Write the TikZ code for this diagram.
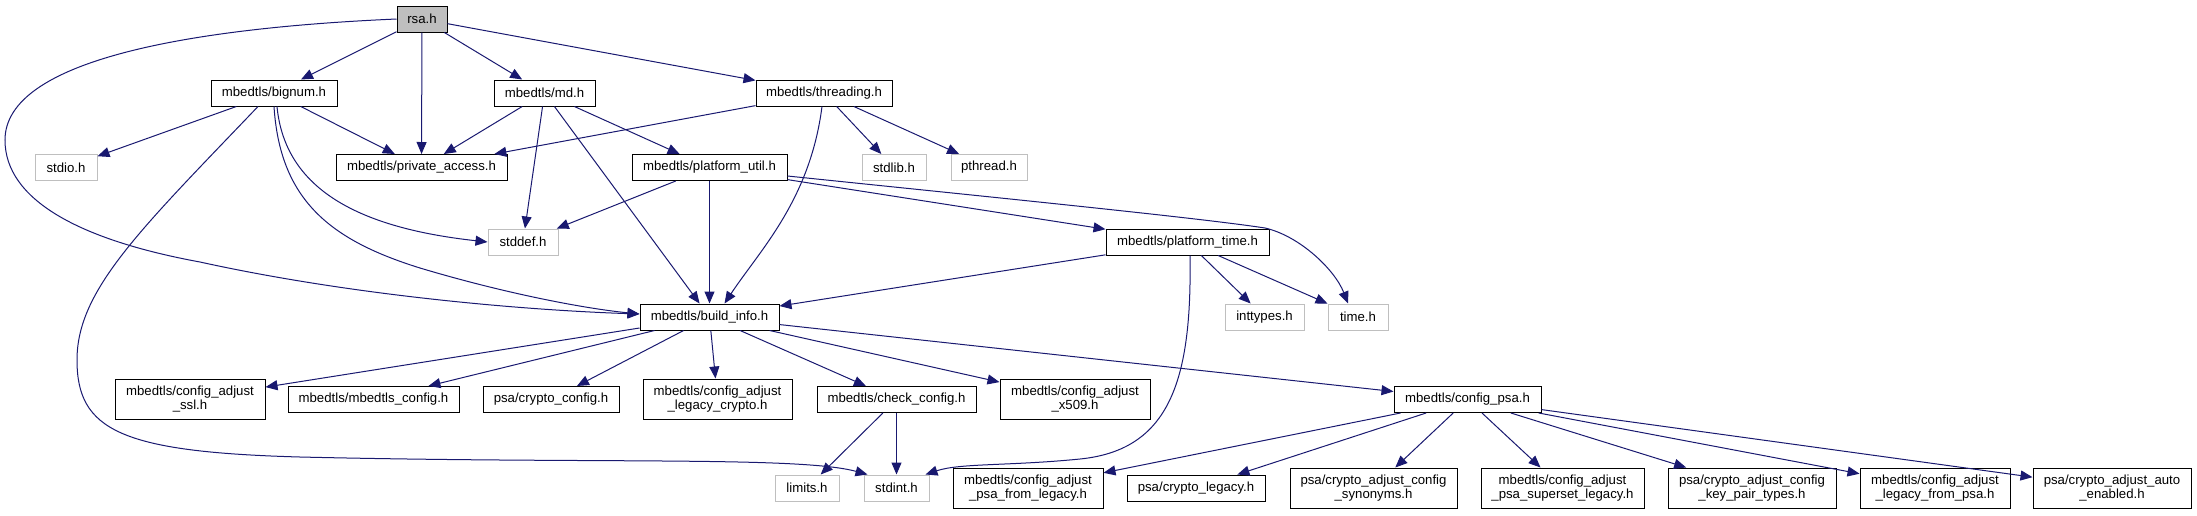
\documentclass[tikz,border=0pt]{standalone}
\usepackage{fontspec}
\setmainfont{Liberation Sans}
\usetikzlibrary{arrows.meta}
\definecolor{edgec}{HTML}{191970}
\definecolor{graybd}{HTML}{BFBFBF}
\begin{document}
\begin{tikzpicture}[x=1pt,y=-1pt,
  box/.style={draw=black, line width=1pt, rectangle, inner sep=0pt, minimum height=26pt, font=\fontsize{13.2}{14.5}\selectfont, align=center},
  gbox/.style={box, draw=graybd},
  tall/.style={minimum height=40pt},
  e/.style={draw=edgec, line width=1pt, -{Triangle[length=12pt,width=10pt]}}]
\useasboundingbox (0,0) rectangle (2197,515);
% row 1
\node[box, fill=graybd, minimum width=50pt] (rsa) at (422,19) {rsa.h};
% row 2
\node[box, minimum width=126pt] (bignum) at (274,93) {mbedtls/bignum.h};
\node[box, minimum width=101pt] (md) at (544.5,93) {mbedtls/md.h};
\node[box, minimum width=136pt] (thr) at (824,93) {mbedtls/threading.h};
% row 3
\node[gbox, minimum width=62pt] (stdio) at (66,167.5) {stdio.h};
\node[box, minimum width=171pt] (priv) at (421.5,167.5) {mbedtls/private\_access.h};
\node[box, minimum width=155pt] (putil) at (709.5,167.5) {mbedtls/platform\_util.h};
\node[gbox, minimum width=64pt] (stdlib) at (894,167.5) {stdlib.h};
\node[gbox, minimum width=76pt] (pthread) at (989,167.5) {pthread.h};
% row 4
\node[gbox, minimum width=70pt] (stddef) at (523,242) {stddef.h};
\node[box, minimum width=163pt] (ptime) at (1187.5,242) {mbedtls/platform\_time.h};
% row 5
\node[box, minimum width=139pt] (build) at (709.5,317) {mbedtls/build\_info.h};
\node[gbox, minimum width=79pt] (inttypes) at (1264.5,317) {inttypes.h};
\node[gbox, minimum width=60pt] (time) at (1358,317) {time.h};
% row 6
\node[box, tall, minimum width=150pt] (cassl) at (190,399) {mbedtls/config\_adjust\\\_ssl.h};
\node[box, minimum width=171pt] (mcfg) at (373.5,399.5) {mbedtls/mbedtls\_config.h};
\node[box, minimum width=136pt] (pcfg) at (551,399.5) {psa/crypto\_config.h};
\node[box, tall, minimum width=149pt] (calc) at (717.5,399) {mbedtls/config\_adjust\\\_legacy\_crypto.h};
\node[box, minimum width=159pt] (check) at (896.5,399.5) {mbedtls/check\_config.h};
\node[box, tall, minimum width=150pt] (cax) at (1075,399) {mbedtls/config\_adjust\\\_x509.h};
\node[box, minimum width=147pt] (cpsa) at (1467.5,399.5) {mbedtls/config\_psa.h};
% row 7
\node[gbox, minimum width=64pt] (limits) at (807,488) {limits.h};
\node[gbox, minimum width=65pt] (stdint) at (896.5,488) {stdint.h};
\node[box, tall, minimum width=150pt] (pfl) at (1028,488) {mbedtls/config\_adjust\\\_psa\_from\_legacy.h};
\node[box, minimum width=138pt] (clegacy) at (1196,488) {psa/crypto\_legacy.h};
\node[box, tall, minimum width=167pt] (syn) at (1373.5,488) {psa/crypto\_adjust\_config\\\_synonyms.h};
\node[box, tall, minimum width=163pt] (sup) at (1562.5,488) {mbedtls/config\_adjust\\\_psa\_superset\_legacy.h};
\node[box, tall, minimum width=168pt] (kpt) at (1752,488) {psa/crypto\_adjust\_config\\\_key\_pair\_types.h};
\node[box, tall, minimum width=150pt] (lfp) at (1935,488) {mbedtls/config\_adjust\\\_legacy\_from\_psa.h};
\node[box, tall, minimum width=158pt] (auto) at (2112,488) {psa/crypto\_adjust\_auto\\\_enabled.h};
% edges from rsa
\draw[e] (rsa) -- (bignum);
\draw[e] (rsa) -- (priv);
\draw[e] (rsa) -- (md);
\draw[e] (rsa) -- (thr);
\draw[e] (rsa.west) .. controls (190,28) and (5,60) .. (5,140) .. controls (5,200) and (80,240) .. (200,262) .. controls (350,295) and (520,310) .. ([yshift=3pt]build.west);
% bignum
\draw[e] (bignum) -- (stdio);
\draw[e] (bignum) -- (priv);
\draw[e] ([xshift=3pt]bignum.south) .. controls (285,190) and (360,228) .. (stddef.west);
\draw[e] (bignum.south) .. controls (280,200) and (330,240) .. (420,268) .. controls (500,292) and (580,308) .. ([yshift=3pt]build.west);
\draw[e] ([xshift=-16pt]bignum.south) .. controls (140,230) and (77,290) .. (77,360) .. controls (77,430) and (120,452) .. (300,457) .. controls (600,464) and (800,456) .. ([xshift=4pt]stdint.north west);
% md
\draw[e] (md) -- (priv);
\draw[e] (md) -- (stddef);
\draw[e] (md) -- (build);
\draw[e] (md) -- (putil);
% threading
\draw[e] (thr) -- (priv);
\draw[e] ([xshift=-2pt]thr.south) .. controls (810,200) and (760,250) .. ([xshift=15pt]build.north);
\draw[e] (thr) -- (stdlib);
\draw[e] (thr) -- (pthread);
% platform_util
\draw[e] (putil) -- (stddef);
\draw[e] (putil) -- (build);
\draw[e] (putil) -- (ptime);
\draw[e] ([yshift=-8.5pt]putil.east) .. controls (1000,198) and (1200,218) .. (1265,228) .. controls (1300,236) and (1335,270) .. ([xshift=-10pt]time.north);
% platform_time
\draw[e] (ptime) -- (build);
\draw[e] ([xshift=2.5pt]ptime.south) .. controls (1192,380) and (1170,450) .. (1080,459) .. controls (1010,466) and (960,463) .. ([xshift=-4pt]stdint.north east);
\draw[e] (ptime) -- (inttypes);
\draw[e] (ptime) -- (time);
% build_info
\draw[e] (build) -- (cassl);
\draw[e] (build) -- (mcfg);
\draw[e] (build) -- (pcfg);
\draw[e] (build) -- (calc);
\draw[e] (build) -- (check);
\draw[e] (build) -- (cax);
\draw[e] (build) -- (cpsa);
% check_config
\draw[e] (check) -- (limits);
\draw[e] (check) -- (stdint);
% config_psa
\draw[e] (cpsa) -- (pfl);
\draw[e] (cpsa) -- (clegacy);
\draw[e] (cpsa) -- (syn);
\draw[e] (cpsa) -- (sup);
\draw[e] (cpsa) -- (kpt);
\draw[e] (cpsa) -- (lfp);
\draw[e] (cpsa) -- (auto);
\end{tikzpicture}
\end{document}
